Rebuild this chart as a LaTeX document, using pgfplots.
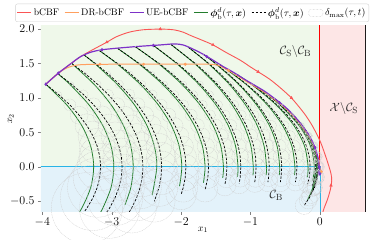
\documentclass[border=0pt]{standalone}
\usepackage{amsmath}
\usepackage{pgfplots}
\usepackage{pgfplotstable}
\pgfplotsset{compat=1.18}

\definecolor{bgG}{RGB}{239,248,234}
\definecolor{bgB}{RGB}{227,242,250}
\definecolor{bgR}{RGB}{253,230,230}
\definecolor{cyanl}{RGB}{40,180,230}
\definecolor{cbfred}{RGB}{250,85,85}
\definecolor{drorange}{RGB}{255,160,95}
\definecolor{uepurple}{RGB}{125,50,200}
\definecolor{arcgreen}{RGB}{35,125,45}
\definecolor{circgray}{RGB}{205,205,205}

% backup trajectories phi_b^d (green)
\pgfplotstableread[row sep=\\]{
x y\\
-3.95 1.20\\ -3.648 0.9\\ -3.432 0.6\\ -3.303 0.3\\ -3.26 0\\ -3.303 -0.3\\ -3.432 -0.6\\ -3.567 -0.8\\
nan nan\\
-3.78 1.355\\ -3.605 1.2\\ -3.327 0.9\\ -3.129 0.6\\ -3.010 0.3\\ -2.97 0\\ -3.010 -0.3\\ -3.129 -0.6\\ -3.218 -0.75\\
nan nan\\
-3.58 1.505\\ -3.256 1.2\\ -3.008 0.9\\ -2.831 0.6\\ -2.725 0.3\\ -2.69 0\\ -2.725 -0.3\\ -2.809 -0.55\\
nan nan\\
-3.40 1.625\\ -3.245 1.5\\ -2.923 1.2\\ -2.672 0.9\\ -2.493 0.6\\ -2.386 0.3\\ -2.35 0\\ -2.417 -0.41\\
nan nan\\
-3.18 1.69\\ -2.928 1.5\\ -2.590 1.2\\ -2.328 0.9\\ -2.140 0.6\\ -2.028 0.3\\ -1.99 0\\ -2.023 -0.28\\
nan nan\\
-2.92 1.723\\ -2.614 1.5\\ -2.268 1.2\\ -2.000 0.9\\ -1.808 0.6\\ -1.693 0.3\\ -1.655 0\\ -1.678 -0.23\\
nan nan\\
-2.66 1.745\\ -2.328 1.5\\ -1.990 1.2\\ -1.728 0.9\\ -1.540 0.6\\ -1.428 0.3\\ -1.39 0\\ -1.401 -0.16\\
nan nan\\
-2.40 1.763\\ -2.064 1.5\\ -1.746 1.2\\ -1.498 0.9\\ -1.321 0.6\\ -1.215 0.3\\ -1.18 0\\ -1.188 -0.14\\
nan nan\\
-2.15 1.78\\ -1.806 1.5\\ -1.501 1.2\\ -1.265 0.9\\ -1.095 0.6\\ -0.994 0.3\\ -0.96 0\\ -0.965 -0.12\\
nan nan\\
-1.90 1.74\\ -1.609 1.5\\ -1.307 1.2\\ -1.072 0.9\\ -0.904 0.6\\ -0.804 0.3\\ -0.77 0\\ -0.775 -0.12\\
nan nan\\
-1.68 1.635\\ -1.506 1.5\\ -1.173 1.2\\ -0.913 0.9\\ -0.728 0.6\\ -0.617 0.3\\ -0.58 0\\ -0.586 -0.12\\
nan nan\\
-1.45 1.49\\ -1.067 1.2\\ -0.758 0.9\\ -0.537 0.6\\ -0.404 0.3\\ -0.36 0\\ -0.367 -0.12\\
nan nan\\
-1.20 1.345\\ -0.989 1.2\\ -0.631 0.9\\ -0.375 0.6\\ -0.221 0.3\\ -0.17 0\\ -0.183 -0.15\\
nan nan\\
-0.95 1.19\\ -0.757 1.05\\ -0.577 0.9\\ -0.301 0.6\\ -0.135 0.3\\ -0.08 0\\ -0.105 -0.2\\
nan nan\\
-0.65 0.99\\ -0.442 0.8\\ -0.270 0.6\\ -0.148 0.4\\ -0.074 0.2\\ -0.05 0\\ -0.105 -0.3\\
nan nan\\
-0.40 0.77\\ -0.259 0.6\\ -0.137 0.4\\ -0.064 0.2\\ -0.04 0\\ -0.064 -0.2\\ -0.137 -0.4\\
nan nan\\
-0.22 0.55\\ -0.135 0.4\\ -0.064 0.2\\ -0.04 0\\ -0.064 -0.2\\ -0.177 -0.48\\
}\greenarcs

% estimated backup trajectories (dashed) with tube radius r = delta_max
\pgfplotstableread[row sep=\\]{
x y r\\
-3.95 1.2 0.005\\ -3.765 1.05 0.043\\ -3.604 0.9 0.086\\ -3.469 0.75 0.129\\ -3.358 0.6 0.171\\ -3.271 0.45 0.214\\ -3.209 0.3 0.257\\ -3.172 0.15 0.3\\ -3.16 0 0.343\\ -3.172 -0.15 0.386\\ -3.209 -0.3 0.429\\ -3.271 -0.45 0.471\\ -3.358 -0.6 0.514\\ -3.469 -0.75 0.557\\ -3.604 -0.9 0.6\\
nan nan 0\\
-3.78 1.355 0.005\\ -3.579 1.2 0.034\\ -3.408 1.05 0.068\\ -3.260 0.9 0.101\\ -3.135 0.75 0.134\\ -3.032 0.6 0.167\\ -2.953 0.45 0.201\\ -2.896 0.3 0.234\\ -2.861 0.15 0.267\\ -2.85 0 0.300\\ -2.861 -0.15 0.334\\ -2.896 -0.3 0.367\\ -2.953 -0.45 0.400\\ -3.032 -0.6 0.434\\ -3.135 -0.75 0.467\\ -3.260 -0.9 0.5\\
nan nan 0\\
-3.58 1.505 0.005\\ -3.379 1.35 0.026\\ -3.205 1.2 0.052\\ -3.051 1.05 0.077\\ -2.918 0.9 0.103\\ -2.806 0.75 0.128\\ -2.714 0.6 0.154\\ -2.642 0.45 0.179\\ -2.591 0.3 0.205\\ -2.560 0.15 0.230\\ -2.55 0 0.256\\ -2.560 -0.15 0.281\\ -2.591 -0.3 0.307\\ -2.642 -0.45 0.332\\ -2.714 -0.6 0.358\\ -2.806 -0.75 0.383\\
nan nan 0\\
-3.40 1.625 0.005\\ -3.234 1.5 0.018\\ -3.053 1.35 0.039\\ -2.891 1.2 0.060\\ -2.748 1.05 0.081\\ -2.624 0.9 0.102\\ -2.519 0.75 0.124\\ -2.433 0.6 0.145\\ -2.366 0.45 0.166\\ -2.318 0.3 0.187\\ -2.290 0.15 0.208\\ -2.28 0 0.229\\ -2.290 -0.15 0.251\\ -2.318 -0.3 0.272\\ -2.386 -0.5 0.3\\
nan nan 0\\
-3.18 1.69 0.005\\ -2.915 1.5 0.020\\ -2.728 1.35 0.036\\ -2.560 1.2 0.052\\ -2.413 1.05 0.067\\ -2.285 0.9 0.083\\ -2.176 0.75 0.099\\ -2.088 0.6 0.115\\ -2.019 0.45 0.131\\ -1.969 0.3 0.146\\ -1.940 0.15 0.162\\ -1.93 0 0.178\\ -1.940 -0.15 0.194\\ -1.969 -0.3 0.210\\ -2.000 -0.4 0.22\\
nan nan 0\\
-2.92 1.723 0.005\\ -2.602 1.5 0.020\\ -2.412 1.35 0.033\\ -2.243 1.2 0.046\\ -2.093 1.05 0.059\\ -1.964 0.9 0.072\\ -1.854 0.75 0.085\\ -1.764 0.6 0.098\\ -1.695 0.45 0.112\\ -1.645 0.3 0.125\\ -1.615 0.15 0.138\\ -1.605 0 0.151\\ -1.615 -0.15 0.164\\ -1.653 -0.33 0.18\\
nan nan 0\\
-2.66 1.745 0.005\\ -2.315 1.5 0.020\\ -2.130 1.35 0.032\\ -1.964 1.2 0.043\\ -1.818 1.05 0.055\\ -1.691 0.9 0.067\\ -1.584 0.75 0.079\\ -1.496 0.6 0.091\\ -1.428 0.45 0.103\\ -1.379 0.3 0.115\\ -1.350 0.15 0.127\\ -1.34 0 0.139\\ -1.350 -0.15 0.151\\ -1.369 -0.26 0.16\\
nan nan 0\\
-2.40 1.763 0.005\\ -2.052 1.5 0.020\\ -1.879 1.35 0.031\\ -1.724 1.2 0.042\\ -1.587 1.05 0.053\\ -1.468 0.9 0.065\\ -1.368 0.75 0.076\\ -1.286 0.6 0.087\\ -1.222 0.45 0.098\\ -1.176 0.3 0.110\\ -1.149 0.15 0.121\\ -1.14 0 0.132\\ -1.149 -0.15 0.143\\ -1.163 -0.24 0.15\\
nan nan 0\\
-2.15 1.78 0.005\\ -1.794 1.5 0.021\\ -1.628 1.35 0.032\\ -1.479 1.2 0.044\\ -1.348 1.05 0.055\\ -1.235 0.9 0.066\\ -1.138 0.75 0.077\\ -1.060 0.6 0.089\\ -0.999 0.45 0.100\\ -0.955 0.3 0.111\\ -0.929 0.15 0.122\\ -0.92 0 0.134\\ -0.929 -0.15 0.145\\ -0.939 -0.22 0.15\\
nan nan 0\\
-1.90 1.74 0.005\\ -1.599 1.5 0.017\\ -1.434 1.35 0.028\\ -1.286 1.2 0.039\\ -1.156 1.05 0.049\\ -1.043 0.9 0.060\\ -0.947 0.75 0.071\\ -0.869 0.6 0.081\\ -0.808 0.45 0.092\\ -0.765 0.3 0.103\\ -0.739 0.15 0.114\\ -0.73 0 0.124\\ -0.739 -0.15 0.135\\ -0.749 -0.22 0.14\\
nan nan 0\\
-1.68 1.635 0.005\\ -1.501 1.5 0.010\\ -1.320 1.35 0.022\\ -1.159 1.2 0.033\\ -1.016 1.05 0.044\\ -0.892 0.9 0.055\\ -0.788 0.75 0.067\\ -0.702 0.6 0.078\\ -0.636 0.45 0.089\\ -0.588 0.3 0.101\\ -0.560 0.15 0.112\\ -0.55 0 0.123\\ -0.560 -0.15 0.135\\ -0.570 -0.22 0.14\\
nan nan 0\\
-1.45 1.49 0.005\\ -1.249 1.35 0.011\\ -1.056 1.2 0.022\\ -0.886 1.05 0.033\\ -0.739 0.9 0.045\\ -0.614 0.75 0.056\\ -0.512 0.6 0.068\\ -0.432 0.45 0.079\\ -0.375 0.3 0.090\\ -0.341 0.15 0.102\\ -0.33 0 0.113\\ -0.341 -0.15 0.125\\ -0.354 -0.22 0.13\\
nan nan 0\\
-1.20 1.345 0.005\\ -0.984 1.2 0.012\\ -0.786 1.05 0.024\\ -0.615 0.9 0.036\\ -0.470 0.75 0.049\\ -0.351 0.6 0.061\\ -0.259 0.45 0.073\\ -0.193 0.3 0.085\\ -0.153 0.15 0.097\\ -0.14 0 0.110\\ -0.153 -0.15 0.122\\ -0.177 -0.25 0.13\\
nan nan 0\\
-0.95 1.19 0.005\\ -0.753 1.05 0.012\\ -0.569 0.9 0.025\\ -0.414 0.75 0.038\\ -0.286 0.6 0.052\\ -0.187 0.45 0.065\\ -0.117 0.3 0.078\\ -0.074 0.15 0.091\\ -0.06 0 0.104\\ -0.074 -0.15 0.117\\ -0.117 -0.3 0.13\\
nan nan 0\\
-0.65 0.99 0.005\\ -0.542 0.9 0.008\\ -0.386 0.75 0.022\\ -0.258 0.6 0.036\\ -0.158 0.45 0.050\\ -0.087 0.3 0.064\\ -0.044 0.15 0.079\\ -0.03 0 0.093\\ -0.044 -0.15 0.107\\ -0.087 -0.3 0.121\\ -0.131 -0.4 0.13\\
nan nan 0\\
-0.40 0.77 0.005\\ -0.251 0.6 0.018\\ -0.150 0.45 0.033\\ -0.078 0.3 0.049\\ -0.034 0.15 0.064\\ -0.02 0 0.080\\ -0.034 -0.15 0.096\\ -0.078 -0.3 0.111\\ -0.168 -0.48 0.13\\
nan nan 0\\
-0.22 0.55 0.005\\ -0.154 0.45 0.012\\ -0.080 0.3 0.029\\ -0.035 0.15 0.047\\ -0.02 0 0.064\\ -0.035 -0.15 0.082\\ -0.080 -0.3 0.100\\ -0.154 -0.45 0.117\\ -0.227 -0.56 0.13\\
}\hatarcs

\begin{document}
\begin{tikzpicture}
\begin{axis}[name=ax,
  x=69.5pt, y=69pt,
  xmin=-4.02, xmax=0.65, ymin=-0.65, ymax=2.05,
  axis line style={black, line width=0.6pt},
  tick align=outside, tick pos=left, major tick length=3pt,
  xtick={-4,-3,-2,-1,0}, ytick={-0.5,0,0.5,1,1.5,2},
  y tick label style={/pgf/number format/fixed, /pgf/number format/fixed zerofill, /pgf/number format/precision=1},
  tick label style={font=\fontsize{11.5}{13}\selectfont},
  xlabel={$x_1$}, ylabel={$x_2$},
  label style={font=\fontsize{12.5}{14}\selectfont},
  every axis x label/.style={at={(axis description cs:0.5,-0.098)}, anchor=center},
  every axis y label/.style={at={(axis description cs:-0.093,0.5)}, rotate=90, anchor=center},
  legend columns=6,
  legend style={at={(axis description cs:0.4667,1.02)}, anchor=south, draw=gray!35, rounded corners=2pt,
    font=\fontsize{9.6}{11}\selectfont, inner sep=1.5pt,
    /tikz/every even column/.append style={column sep=3pt}},
  legend image code/.code={\draw[#1] (0pt,0pt) -- (14pt,0pt);},
]
\addlegendimage{cbfred, line width=1pt}
\addlegendentry{bCBF}
\addlegendimage{drorange, line width=1pt}
\addlegendentry{DR-bCBF}
\addlegendimage{uepurple, line width=1.2pt}
\addlegendentry{UE-bCBF}
\addlegendimage{arcgreen, line width=1pt}
\addlegendentry{$\boldsymbol{\phi}^{d}_{\mathrm{b}}(\tau,\boldsymbol{x})$}
\addlegendimage{black, line width=0.8pt, dash pattern=on 2.5pt off 1.5pt}
\addlegendentry{$\boldsymbol{\phi}^{d}_{\mathrm{b}}(\tau,\boldsymbol{x})$}
\addlegendimage{legend image code/.code={\draw[gray!50, densely dotted, fill=white] (0pt,-3.5pt) rectangle (14pt,3.5pt);}}
\addlegendentry{$\delta_{\max}(\tau,t)$}

% regions
\addplot[forget plot, draw=none, fill=bgG] coordinates {(-4.2,0) (0,0) (0,2.2) (-4.2,2.2)} -- cycle;
\addplot[forget plot, draw=none, fill=bgB] coordinates {(-4.2,-0.8) (0,-0.8) (0,0) (-4.2,0)} -- cycle;
\addplot[forget plot, draw=none, fill=bgR] coordinates {(0,-0.8) (0.8,-0.8) (0.8,2.2) (0,2.2)} -- cycle;

% uncertainty tubes
\addplot[forget plot, scatter, only marks, mark=o,
  scatter/use mapped color={draw=circgray, fill=none},
  mark options={line width=0.3pt, dash pattern=on 1pt off 0.7pt},
  visualization depends on={69.3*\thisrow{r} \as \rad},
  scatter/@pre marker code/.append style={/tikz/mark size=\rad},
] table[x=x, y=y] {\hatarcs};

% boundaries
\addplot[forget plot, cyanl, line width=0.8pt] coordinates {(-4.2,0) (0,0) (0,-0.8)};
\addplot[forget plot, red, line width=1pt] coordinates {(0,0) (0,2.2)};

% backup trajectories
\addplot[forget plot, arcgreen, line width=0.8pt, smooth, unbounded coords=jump] table[x=x, y=y] {\greenarcs};
\addplot[forget plot, black, line width=0.7pt, dash pattern=on 2.5pt off 1.5pt, unbounded coords=jump] table[x=x, y=y] {\hatarcs};

% bCBF
\addplot[forget plot, cbfred, line width=0.9pt, smooth] coordinates {
(-3.95,1.20) (-3.77,1.36) (-3.60,1.49) (-3.45,1.60) (-3.33,1.67) (-3.22,1.73) (-3.07,1.81) (-2.93,1.89)
(-2.75,1.955) (-2.55,1.99) (-2.30,2.00) (-2.11,1.99) (-1.97,1.955) (-1.87,1.91) (-1.70,1.84) (-1.54,1.77)
(-1.35,1.66) (-1.15,1.55) (-1.00,1.45) (-0.89,1.38) (-0.72,1.27) (-0.55,1.13) (-0.41,1.00) (-0.30,0.87)
(-0.20,0.74) (-0.10,0.58) (0.00,0.38) (0.06,0.22) (0.12,0.04) (0.16,-0.10) (0.17,-0.20) (0.15,-0.33)
(0.11,-0.47) (0.06,-0.60) (0.03,-0.70)};
\addplot[forget plot, only marks, mark=triangle*, mark size=1.6pt, cbfred] coordinates {
(-3.07,1.81) (-2.30,2.00) (-1.54,1.77) (-0.89,1.38) (-0.41,1.00) (0.16,-0.27)};

% DR-bCBF
\addplot[forget plot, drorange, line width=1pt, smooth] coordinates {
(-3.95,1.20) (-3.77,1.36) (-3.65,1.435) (-3.52,1.475) (-3.35,1.487) (-3.00,1.49) (-2.50,1.49) (-2.00,1.49)
(-1.60,1.49) (-1.47,1.475) (-1.40,1.445) (-1.25,1.36) (-1.10,1.265) (-0.95,1.175) (-0.80,1.085) (-0.65,0.975)
(-0.50,0.855) (-0.38,0.735) (-0.27,0.605) (-0.17,0.465) (-0.10,0.335) (-0.05,0.205) (-0.02,0.09) (0.00,-0.02) (0.02,-0.07)};
\addplot[forget plot, only marks, mark=*, mark size=1.3pt, drorange] coordinates {
(-3.17,1.49) (-2.54,1.49) (-1.94,1.49) (-1.32,1.40) (0.02,-0.07)};

% UE-bCBF
\addplot[forget plot, uepurple, line width=1.2pt, smooth] coordinates {
(-3.95,1.20) (-3.77,1.36) (-3.60,1.49) (-3.45,1.60) (-3.30,1.665) (-3.14,1.70) (-2.90,1.725) (-2.60,1.75)
(-2.30,1.77) (-2.10,1.785) (-1.97,1.77) (-1.85,1.72) (-1.70,1.645) (-1.55,1.555) (-1.40,1.46) (-1.25,1.375)
(-1.10,1.28) (-0.95,1.19) (-0.80,1.10) (-0.65,0.99) (-0.50,0.87) (-0.38,0.75) (-0.27,0.62) (-0.17,0.48)
(-0.10,0.35) (-0.05,0.22) (-0.02,0.10) (-0.01,0.00) (0.00,-0.05) (-0.02,-0.08) (0.00,-0.12)};
\addplot[forget plot, only marks, mark=diamond*, mark size=1.5pt, uepurple] coordinates {
(-3.95,1.20) (-3.77,1.36) (-3.14,1.70) (-2.40,1.763) (-1.63,1.60) (-0.58,0.93) (-0.07,0.28) (-0.01,0.0) (0.00,-0.10)};

% region labels
\node[font=\fontsize{13}{15}\selectfont, text=black!85] at (axis cs:-0.35,1.67) {$\mathcal{C}_{\mathrm{S}}\backslash\mathcal{C}_{\mathrm{B}}$};
\node[font=\fontsize{13}{15}\selectfont, text=black!85] at (axis cs:0.345,0.85) {$\mathcal{X}\backslash\mathcal{C}_{\mathrm{S}}$};
\node[font=\fontsize{13}{15}\selectfont, text=black!85] at (axis cs:-0.63,-0.41) {$\mathcal{C}_{\mathrm{B}}$};
\end{axis}
\pgfresetboundingbox
\path[use as bounding box] ([shift={(-41pt,-28.3pt)}]ax.south west) rectangle ([shift={(12pt,25.7pt)}]ax.north east);
\end{tikzpicture}
\end{document}
